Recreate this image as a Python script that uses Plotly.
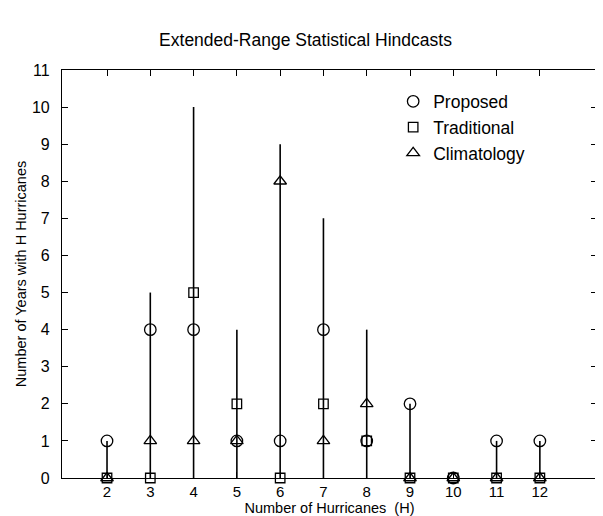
import plotly.graph_objects as go

hurricanes = [2, 3, 4, 5, 6, 7, 8, 9, 10, 11, 12]
observed = [1, 5, 10, 4, 9, 7, 4, 2, 0, 1, 1]
proposed = [1, 4, 4, 1, 1, 4, 1, 2, 0, 1, 1]
traditional = [0, 0, 5, 2, 0, 2, 1, 0, 0, 0, 0]
climatology = [0, 1, 1, 1, 8, 1, 2, 0, 0, 0, 0]

FONT = "Liberation Sans, Arial, Helvetica, sans-serif"

stem_x, stem_y = [], []
for h, v in zip(hurricanes, observed):
    stem_x += [h, h, None]
    stem_y += [0, v, None]

fig = go.Figure()
fig.add_trace(go.Scatter(x=stem_x, y=stem_y, mode="lines",
                         line=dict(color="black", width=1.6),
                         showlegend=False, hoverinfo="skip"))

for name, vals, sym, size in [("Proposed", proposed, "circle-open", 11.5),
                              ("Traditional", traditional, "square-open", 9.5),
                              ("Climatology", climatology, "triangle-up-open", 11)]:
    fig.add_trace(go.Scatter(x=hurricanes, y=vals, mode="markers", name=name,
                             marker=dict(symbol=sym, size=size, color="black",
                                         line=dict(color="black", width=1.3)),
                             cliponaxis=False))

fig.update_layout(
    width=595, height=508,
    margin=dict(l=54, r=6, t=62, b=38),
    paper_bgcolor="white", plot_bgcolor="white",
    font=dict(family=FONT, color="black", size=14),
    title=dict(text="Extended-Range Statistical Hindcasts", x=0.5, xanchor="center",
               y=1 - 32 / 508, yanchor="middle", font=dict(size=17.5, family=FONT)),
    legend=dict(x=0.619, y=0.967, xanchor="left", yanchor="top",
                bgcolor="rgba(0,0,0,0)", font=dict(size=17.5), itemwidth=30,
                tracegroupgap=0),
    xaxis=dict(range=[0.96, 13.32], tickmode="array", tickvals=hurricanes,
               ticktext=[str(h) for h in hurricanes],
               ticks="inside", ticklen=6, tickcolor="black",
               showline=True, linecolor="black", linewidth=1.3, mirror="ticks",
               showgrid=False, zeroline=False, automargin=False,
               title=dict(text="Number of Hurricanes  (H)", standoff=6,
                          font=dict(size=14.5)),
               tickfont=dict(size=15)),
    yaxis=dict(range=[0, 11], tickmode="linear", dtick=1, tick0=0,
               ticks="inside", ticklen=6, tickcolor="black",
               showline=True, linecolor="black", linewidth=1.2, mirror="ticks",
               showgrid=False, zeroline=False, ticklabelstandoff=8, automargin=False,
               title=dict(text="Number of Years with H Hurricanes", standoff=1,
                          font=dict(size=14.5)),
               tickfont=dict(size=16)),
)

fig.write_html("out.html")
